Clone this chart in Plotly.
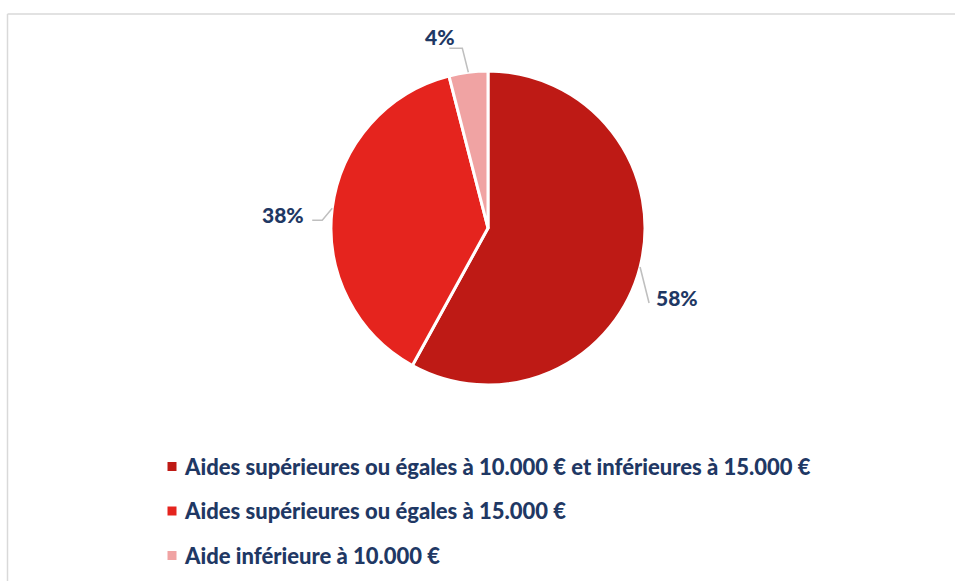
import math
import plotly.graph_objects as go

categories = [
    "Aides supérieures ou égales à 10.000 € et inférieures à 15.000 €",
    "Aides supérieures ou égales à 15.000 €",
    "Aide inférieure à 10.000 €",
]
values = [58, 38, 4]
colors = ["#BE1A15", "#E5241E", "#F0A3A3"]

W, H = 955, 581
CX, CY, R = 488, 228, 157
TEXT_COLOR = "#1F3864"
LINE_COLOR = "#BFBFBF"
FONT = "Lato"

fig = go.Figure()
fig.add_trace(go.Pie(
    labels=categories, values=values, sort=False, direction="clockwise",
    rotation=0, marker=dict(colors=colors, line=dict(color="white", width=3)),
    textinfo="none", hoverinfo="label+percent", showlegend=False,
    domain=dict(x=[(CX - R) / W, (CX + R) / W], y=[1 - (CY + R) / H, 1 - (CY - R) / H]),
))

def px(x):
    return x / W

def py(y):
    return 1 - y / H

# leader line styles per slice
styles = [
    dict(ex=9, ey=36, tx=0, lx=5, ly=-6, anchor="left"),
    dict(ex=-10, ey=12, tx=-10, lx=-6, ly=-6, anchor="right"),
    dict(ex=-6, ey=-24, tx=-13, lx=-9, ly=-12, anchor="center"),
]

shapes = []
annotations = []
total = sum(values)
cum = 0
for v, st in zip(values, styles):
    mid = (cum + v / 2) / total * 2 * math.pi
    cum += v
    x0 = CX + R * math.sin(mid)
    y0 = CY - R * math.cos(mid)
    x1, y1 = x0 + st["ex"], y0 + st["ey"]
    x2 = x1 + st["tx"]
    path = f"M{px(x0)},{py(y0)} L{px(x1)},{py(y1)} L{px(x2)},{py(y1)}"
    shapes.append(dict(type="path", xref="paper", yref="paper", path=path,
                       line=dict(color=LINE_COLOR, width=1.5)))
    annotations.append(dict(
        x=px(x2 + st["lx"]), y=py(y1 + st["ly"]), xref="paper", yref="paper",
        text=f"{v}%", showarrow=False, xanchor=st["anchor"], yanchor="middle",
        font=dict(family=FONT, size=21, color=TEXT_COLOR, weight=900)))

# custom legend
LEG_X, LEG_Y0, LEG_DY, SQ = 172, 466.5, 44.5, 9
for i, (cat, col) in enumerate(zip(categories, colors)):
    yc = LEG_Y0 + i * LEG_DY
    shapes.append(dict(type="rect", xref="paper", yref="paper",
                       x0=px(LEG_X - SQ / 2), x1=px(LEG_X + SQ / 2),
                       y0=py(yc + SQ / 2), y1=py(yc - SQ / 2),
                       fillcolor=col, line=dict(width=0)))
    annotations.append(dict(
        x=px(182), y=py(yc), xref="paper", yref="paper", text=cat,
        showarrow=False, xanchor="left", yanchor="middle",
        font=dict(family=FONT, size=22, color=TEXT_COLOR, weight=900)))

# frame lines (top and left)
shapes.append(dict(type="line", xref="paper", yref="paper", x0=px(7.5), x1=1,
                   y0=py(14), y1=py(14), line=dict(color="#D9D9D9", width=1.5)))
shapes.append(dict(type="line", xref="paper", yref="paper", x0=px(7.5), x1=px(7.5),
                   y0=py(14), y1=0, line=dict(color="#D9D9D9", width=1.5)))

fig.update_layout(
    width=W, height=H, margin=dict(l=0, r=0, t=0, b=0),
    paper_bgcolor="white", plot_bgcolor="white",
    shapes=shapes, annotations=annotations, showlegend=False,
)
fig.write_html("out.html", config={"displayModeBar": False},
               post_script="document.body.style.margin='0';document.body.style.overflow='hidden';")
